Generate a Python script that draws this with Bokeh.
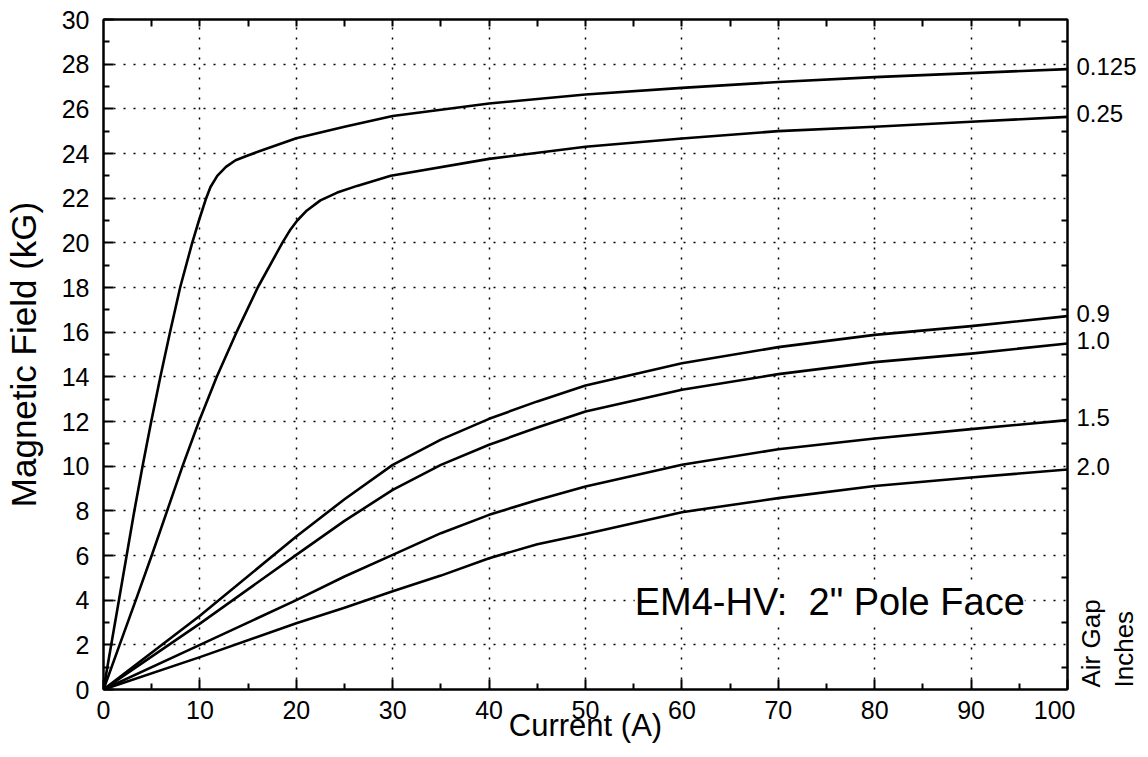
import math
from bokeh.plotting import figure
from bokeh.layouts import row
from bokeh.models import LinearAxis, FixedTicker, Range1d, Label
from bokeh.core.properties import value
from bokeh.embed import file_html
from bokeh.resources import INLINE

# ---------------- data ----------------
current_0125 = [0, 0.8, 1.6, 2.4, 3.2, 4.05, 4.95, 5.9, 6.9, 7.95, 9.2, 9.9, 10.65, 11.1, 11.8,
                12.7, 13.7, 14.9, 16.3, 20.0, 25.0, 30.0, 40, 50, 60, 70, 80, 90, 100]
field_0125 = [0, 2, 4, 6, 8, 10, 12, 14, 16, 18, 20.0, 21.0, 22.0, 22.5, 23.0,
              23.4, 23.7, 23.9, 24.12, 24.68, 25.2, 25.68, 26.24, 26.64, 26.94, 27.2, 27.42, 27.6, 27.78]

current_025 = [0, 1.67, 3.35, 5.0, 6.6, 8.2, 9.9, 11.75, 13.8, 16.0, 18.55, 19.4, 20.1, 21.1, 22.5,
               24.25, 26.3, 29.8, 40, 50, 60, 70, 80, 90, 100]
field_025 = [0, 2, 4, 6, 8, 10, 12, 14, 16, 18, 20.0, 20.6, 21.0, 21.45, 21.9,
             22.25, 22.55, 23.0, 23.76, 24.3, 24.67, 25.0, 25.2, 25.42, 25.64]

current_low = [0, 10, 20, 25, 30, 35, 40, 45, 50, 60, 70, 80, 90, 100]
field_09 = [0, 3.3, 6.85, 8.52, 10.06, 11.19, 12.12, 12.9, 13.61, 14.61, 15.33, 15.88, 16.27, 16.72]
field_10 = [0, 2.95, 6.03, 7.55, 8.94, 10.06, 10.96, 11.73, 12.45, 13.42, 14.12, 14.66, 15.04, 15.49]
field_15 = [0, 2.0, 4.0, 5.06, 6.03, 7.0, 7.82, 8.49, 9.09, 10.06, 10.76, 11.24, 11.66, 12.06]
field_20 = [0, 1.45, 2.97, 3.66, 4.4, 5.1, 5.88, 6.5, 6.96, 7.94, 8.57, 9.11, 9.49, 9.85]

gap_labels = ["0.125", "0.25", "0.9", "1.0", "1.5", "2.0"]
gap_title = "Air Gap\nInches"
chart_note = "EM4-HV:\u00a0 2\" Pole Face"

x_ticks = list(range(0, 101, 10))
x_minor = list(range(5, 100, 10))
top_minor = list(range(5, 100, 5))
y_ticks = list(range(0, 31, 2))
y_minor = list(range(1, 30, 2))

FONT = "Liberation Sans"

p = figure(width=1075, height=757, x_range=Range1d(0, 100), y_range=Range1d(0, 30),
           output_backend="svg", toolbar_location=None,
           min_border_left=103, min_border_right=8, min_border_top=19, min_border_bottom=68,
           background_fill_color="white", border_fill_color="white")

p.outline_line_color = "black"
p.outline_line_width = 2


def style_axis(ax):
    ax.major_tick_in = 10
    ax.major_tick_out = 0
    ax.minor_tick_in = 6
    ax.minor_tick_out = 0
    ax.major_tick_line_width = 2
    ax.minor_tick_line_width = 2
    ax.major_tick_line_color = "black"
    ax.minor_tick_line_color = "black"
    ax.axis_line_color = "black"
    ax.axis_line_width = 2
    ax.major_label_text_font = FONT
    ax.major_label_text_color = "black"
    ax.major_label_text_font_size = "25px"


p.xaxis.ticker = FixedTicker(ticks=x_ticks, minor_ticks=x_minor)
p.yaxis.ticker = FixedTicker(ticks=y_ticks, minor_ticks=y_minor)
style_axis(p.xaxis[0])
style_axis(p.yaxis[0])
p.xaxis.major_label_standoff = 11
p.yaxis.major_label_standoff = 14

p.xaxis.axis_label = "Current (A)"
p.xaxis.axis_label_text_font = FONT
p.xaxis.axis_label_text_font_size = "31px"
p.xaxis.axis_label_text_font_style = "normal"
p.xaxis.axis_label_text_color = "black"
p.xaxis.axis_label_standoff = -14

p.yaxis.axis_label = "Magnetic Field (kG)"
p.yaxis.axis_label_text_font = FONT
p.yaxis.axis_label_text_font_size = "35px"
p.yaxis.axis_label_text_font_style = "normal"
p.yaxis.axis_label_text_color = "black"
p.yaxis.axis_label_standoff = 16

top_axis = LinearAxis(ticker=FixedTicker(ticks=[], minor_ticks=top_minor))
style_axis(top_axis)
top_axis.minor_tick_in = 7
top_axis.major_label_standoff = 0
p.add_layout(top_axis, "above")

right_axis = LinearAxis(ticker=FixedTicker(ticks=[], minor_ticks=y_minor))
style_axis(right_axis)
right_axis.major_label_standoff = 0
p.add_layout(right_axis, "right")

for g in (p.xgrid, p.ygrid):
    g.grid_line_color = "black"
    g.grid_line_dash = "2 8"
    g.grid_line_width = 1.5

curves = [
    (current_0125, field_0125),
    (current_025, field_025),
    (current_low, field_09),
    (current_low, field_10),
    (current_low, field_15),
    (current_low, field_20),
]
for cx, cy in curves:
    p.line(cx, cy, line_color="black", line_width=2.6, line_join="round")

p.add_layout(Label(x=55.1, y=3.9, text=chart_note, text_font=FONT,
                   text_font_size="38px", text_color="black", text_baseline="middle",
                   text_align="left", background_fill_color="white"))

# ---- right-hand strip with the air-gap labels (same vertical scale) ----
p2 = figure(width=73, height=757, x_range=Range1d(0, 73), y_range=p.y_range,
            x_axis_type=None, y_axis_type=None, output_backend="svg", toolbar_location=None,
            min_border_left=0, min_border_right=0, min_border_top=19, min_border_bottom=68,
            background_fill_color="white", border_fill_color="white")
p2.outline_line_color = None
p2.grid.visible = False

end_y = [c[1][-1] for c in curves]
p2.text(x=[1] * len(gap_labels), y=end_y, text=gap_labels, y_offset=-3,
        text_baseline="middle", text_align="left",
        text_font=value(FONT), text_font_size=value("24px"), text_color="black")

p2.text(x=[0], y=[0], text=[gap_title], angle=math.pi / 2, y_offset=-2,
        text_align="left", text_baseline="top", text_line_height=1.12,
        text_font=value(FONT), text_font_size=value("26px"), text_color="black")

layout = row(p, p2, spacing=0)
open("out.html", "w").write(file_html(layout, INLINE))
